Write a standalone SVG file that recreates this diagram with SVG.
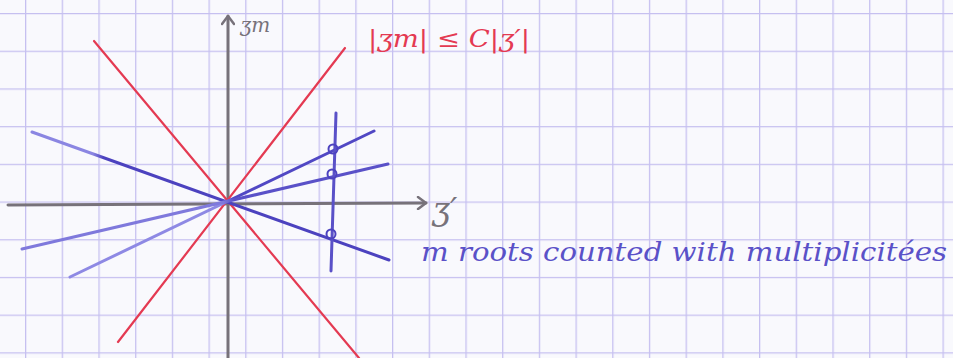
<svg xmlns="http://www.w3.org/2000/svg" width="953" height="358" viewBox="0 0 953 358">
<defs>
<pattern id="grid" patternUnits="userSpaceOnUse" x="25" y="13" width="36.7" height="37.7">
<path d="M0.5 0 V37.7 M0 0.5 H36.7" stroke="#c6c0f0" stroke-width="1.6" fill="none"/>
</pattern>
<marker id="chev" markerWidth="14" markerHeight="14" refX="10" refY="7" orient="auto" markerUnits="userSpaceOnUse">
<path d="M2 1 L10 7 L2 13" fill="none" stroke="#77727a" stroke-width="2.5" stroke-linecap="round" stroke-linejoin="round"/>
</marker>
<linearGradient id="fadeA" gradientUnits="userSpaceOnUse" x1="32" y1="0" x2="389" y2="0">
<stop offset="0" stop-color="#8b86e2"/><stop offset="0.17" stop-color="#8b86e2"/><stop offset="0.2" stop-color="#4c42bf"/><stop offset="1" stop-color="#4c42bf"/>
</linearGradient>
<linearGradient id="fadeB" gradientUnits="userSpaceOnUse" x1="70" y1="0" x2="374" y2="0">
<stop offset="0" stop-color="#8e89e4"/><stop offset="0.5" stop-color="#8e89e4"/><stop offset="0.53" stop-color="#5148c4"/><stop offset="1" stop-color="#5148c4"/>
</linearGradient>
<linearGradient id="fadeC" gradientUnits="userSpaceOnUse" x1="22" y1="0" x2="388" y2="0">
<stop offset="0" stop-color="#7f79dc"/><stop offset="0.55" stop-color="#7f79dc"/><stop offset="0.58" stop-color="#5a51c8"/><stop offset="1" stop-color="#5a51c8"/>
</linearGradient>
<style>
.axis{stroke:#77727a;stroke-width:3;fill:none;stroke-linecap:round}
.red{stroke:#e43a52;stroke-width:2.2;fill:none;stroke-linecap:round}
.blue{stroke-width:3;fill:none;stroke-linecap:round}
.pt{fill:none;stroke:#4c42bf;stroke-width:2}
.lbl{font-family:"DejaVu Serif",serif;font-style:italic}
</style>
</defs>
<rect width="953" height="358" fill="#f9f9fd"/>
<rect width="953" height="358" fill="url(#grid)"/>

<g id="axes">
<line id="axis-v" class="axis" x1="228" y1="358" x2="228" y2="16" marker-end="url(#chev)"/>
<line id="axis-h" class="axis" x1="8" y1="205" x2="426" y2="203" marker-end="url(#chev)"/>
</g>

<g id="connectors">
<line class="red" x1="94" y1="41" x2="359" y2="358"/>
<line class="red" x1="118" y1="342" x2="345" y2="48"/>
<line class="blue" stroke="url(#fadeA)" x1="32" y1="132" x2="389" y2="260"/>
<line class="blue" stroke="url(#fadeB)" x1="70" y1="277" x2="374" y2="131"/>
<line class="blue" stroke="url(#fadeC)" x1="22" y1="249" x2="388" y2="164"/>
<line class="blue" stroke="#5a51c8" stroke-width="2.2" x1="336" y1="113" x2="331" y2="271"/>
</g>

<g id="roots">
<circle class="pt" cx="333" cy="149" r="4.5"/>
<circle class="pt" cx="332" cy="174" r="4.5"/>
<circle class="pt" cx="331" cy="234" r="4.5"/>
</g>

<g id="labels">
<text class="lbl" x="240" y="32" font-size="20" fill="#77727a">ʒm</text>
<text class="lbl" x="432" y="220" font-size="32" fill="#77727a">ʒ′</text>
<text class="lbl" x="368" y="47" font-size="24" fill="#e43a52" textLength="162" lengthAdjust="spacingAndGlyphs">|ʒm| ≤ C|ʒ′|</text>
<text class="lbl" x="421" y="261" font-size="26" fill="#5a51c8" textLength="526" lengthAdjust="spacingAndGlyphs">m roots counted with multiplicitées</text>
</g>
</svg>
